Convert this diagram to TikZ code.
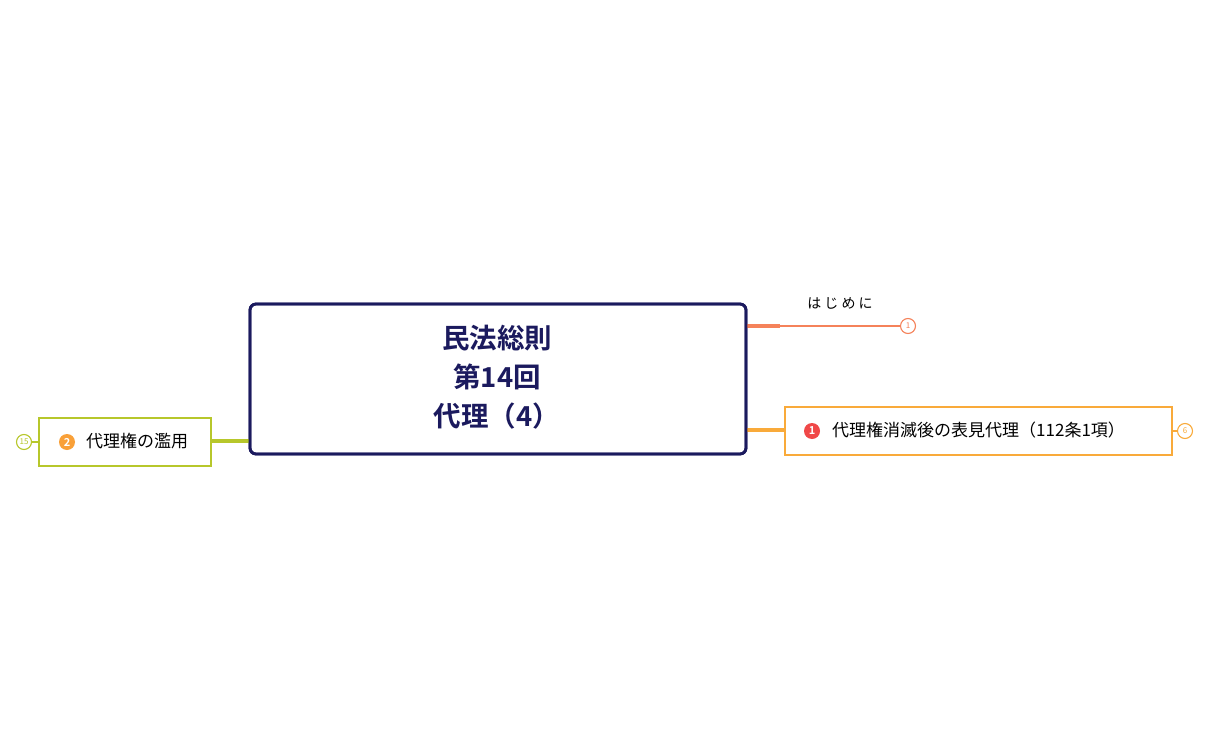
\documentclass[tikz,border=0pt]{standalone}
\usepackage{fontspec}
\setmainfont{Noto Sans CJK JP}
\newfontfamily\jpbold{Noto Sans CJK JP Bold}
\begin{document}
\begin{tikzpicture}[x=1pt,y=-1pt,
  central/.style={draw=navy,line width=2.8pt,rounded corners=6pt,fill=white,minimum width=496pt,minimum height=150pt,inner sep=0pt},
  topicbox/.style={draw=#1,line width=2.8pt,fill=white,minimum height=48pt,inner sep=0pt},
  badge/.style={circle,fill=#1,text=white,inner sep=0pt,minimum size=16pt,font=\jpbold\fontsize{11}{11}\selectfont},
  counter/.style={circle,draw=#1,text=#1,line width=1.1pt,fill=white,inner sep=0pt,minimum size=15pt,font=\fontsize{8}{8}\selectfont},
  conn/.style={draw=#1,line width=3.5pt},
  lbl/.style={font=\fontsize{17}{19}\selectfont,text=black,inner sep=0pt,anchor=west}
]
\definecolor{navy}{HTML}{1B1A5E}
\definecolor{salmon}{HTML}{F5825A}
\definecolor{amber}{HTML}{F9AA3A}
\definecolor{lime}{HTML}{B7C72B}
\definecolor{redbadge}{HTML}{F04848}
\definecolor{orangebadge}{HTML}{F9A038}
\useasboundingbox (0,0) rectangle (1210,749);

% central
\node[central] (c) at (498,379) {};
\node[font=\jpbold\fontsize{27.5}{39}\selectfont,text=navy,align=center] (ct) at (497,377) {民法総則\\第14回\\代理（4）};

% hajimeni
\coordinate (h0) at (746,326);
\node[counter=salmon] (n1) at (908,326) {1};
\draw[salmon,line width=3.5pt] (h0) -- (780,326);
\draw[salmon,line width=2.2pt] (780,326) -- (n1.west);
\node[font=\fontsize{14}{16}\selectfont,inner sep=0pt] (hj) at (840,303) {は じ め に};

% right topic
\node[topicbox=amber,minimum width=387pt] (r) at (978.5,431) {};
\coordinate (r0) at (746,430);
\draw[conn=amber] (r0) -- (r.west|-r0);
\node[badge=redbadge] (rb) at (812,431) {1};
\node[lbl] (rt) at (832,430) {代理権消滅後の表見代理（112条1項）};
\node[counter=amber] (n6) at (1185,431) {6};
\draw[amber,line width=1.1pt] (r.east) -- (n6.west);

% left topic
\node[topicbox=lime,minimum width=172pt] (l) at (125,442) {};
\coordinate (l0) at (250,441);
\draw[conn=lime] (l.east|-l0) -- (l0);
\node[badge=orangebadge] (lb) at (67,442) {2};
\node[lbl] (lt) at (86,441) {代理権の濫用};
\node[counter=lime] (n15) at (24,442) {15};
\draw[lime,line width=1.1pt] (n15.east) -- (l.west);

% redraw central outline on top of connectors
\node[central,fill=none] (c2) at (498,379) {};
\end{tikzpicture}
\end{document}
